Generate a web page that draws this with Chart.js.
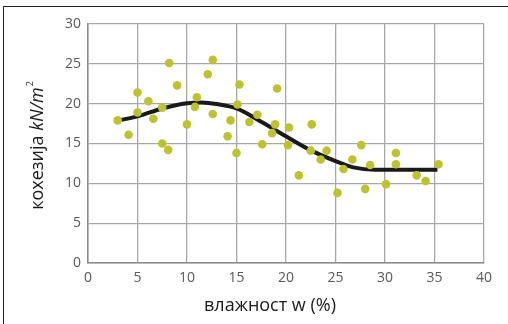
<!DOCTYPE html>
<html>
<head>
<meta charset="utf-8">
<script src="https://cdn.jsdelivr.net/npm/chart.js@4"></script>
<style>
    body { margin: 0; background: #fff; }
    #box { position: relative; width: 508px; height: 324px; }
    #okvir { position: absolute; left: 3px; top: 6px; right: 0; bottom: 0; border-top: 1px solid #222; border-left: 1px solid #222; }
</style>
</head>
<body>
<div id="box">
    <div id="okvir"></div>
    <canvas id="grafik" width="508" height="324"></canvas>
</div>
<script>
// vlaznost (%) i kohezija (kN/m2) - tacke
const vlaznost = [3.0, 4.1, 5.0, 5.0, 6.1, 6.6, 7.5, 7.5, 8.1, 8.2, 9.0, 10.0, 10.8, 11.0, 12.1, 12.6, 12.6,
    14.1, 14.4, 15.0, 15.1, 15.3, 16.3, 17.1, 17.6, 18.6, 18.9, 19.1, 20.2, 20.3, 21.3, 22.5, 22.6, 23.5, 24.1,
    25.2, 25.8, 26.7, 27.6, 28.0, 28.5, 30.1, 31.1, 31.1, 33.2, 34.1, 35.4];
const kohezija = [17.9, 16.1, 21.4, 18.9, 20.3, 18.1, 19.5, 15.0, 14.2, 25.1, 22.3, 17.4, 19.6, 20.8, 23.7, 25.5, 18.7,
    15.9, 17.9, 13.8, 19.9, 22.4, 17.7, 18.6, 14.9, 16.3, 17.4, 21.9, 14.8, 17.0, 11.0, 14.1, 17.4, 13.0, 14.1,
    8.8, 11.8, 13.0, 14.8, 9.3, 12.3, 9.9, 13.8, 12.4, 11.0, 10.3, 12.4];

// trend linija
const trendX = [3.1, 5, 7.5, 10, 11.5, 13, 15, 17.4, 20, 22.4, 25, 26.8, 29, 35.3];
const trendY = [17.9, 18.4, 19.4, 20.05, 20.15, 19.95, 19.4, 17.8, 15.9, 14.2, 12.8, 12.0, 11.7, 11.7];

const xTicks = [0, 5, 10, 15, 20, 25, 30, 35, 40];
const yTicks = [0, 5, 10, 15, 20, 25, 30];

const tacke = vlaznost.map((v, i) => ({ x: v, y: kohezija[i] }));
const trend = trendX.map((v, i) => ({ x: v, y: trendY[i] }));

// nazivi osa (y ima italik deo i eksponent)
const naziviOsa = {
    id: 'naziviOsa',
    afterDraw(chart) {
        const c = chart.ctx;
        c.save();
        c.fillStyle = '#1a1a1a';
        c.textBaseline = 'alphabetic';
        c.font = '18px "Open Sans"';
        c.textAlign = 'center';
        c.fillText('влажност w (%)', 270, 311);

        c.translate(43, 146);
        c.rotate(-Math.PI / 2);
        const d1 = 'кохезија ';
        const d2 = 'kN/m';
        c.font = '18px "Open Sans"';
        const w1 = c.measureText(d1).width;
        c.font = 'italic 18px "Open Sans"';
        const w2 = c.measureText(d2).width;
        c.font = '9px "Open Sans"';
        const w3 = c.measureText('2').width;
        let x = -(w1 + w2 + w3) / 2;
        c.textAlign = 'left';
        c.font = '18px "Open Sans"';
        c.fillText(d1, x, 0);
        x += w1;
        c.font = 'italic 18px "Open Sans"';
        c.fillText(d2, x, 0);
        x += w2;
        c.font = '9px "Open Sans"';
        c.fillText('2', x + 1, -10);
        c.restore();
    }
};

const ctx = document.getElementById('grafik').getContext('2d');
new Chart(ctx, {
    type: 'scatter',
    data: {
        datasets: [
            {
                type: 'line',
                label: 'trend',
                data: trend,
                borderColor: '#1a1a1a',
                borderWidth: 4,
                pointRadius: 0,
                fill: false,
                cubicInterpolationMode: 'monotone',
                order: 1
            },
            {
                label: 'kohezija',
                data: tacke,
                backgroundColor: '#bdc22f',
                borderColor: '#bdc22f',
                pointRadius: 4.3,
                pointBorderWidth: 0,
                order: 0
            }
        ]
    },
    options: {
        responsive: false,
        animation: false,
        layout: { padding: { top: 24, right: 24, left: 0, bottom: 0 } },
        plugins: { legend: { display: false }, tooltip: { enabled: false } },
        scales: {
            x: {
                type: 'linear',
                min: 0, max: 40,
                afterBuildTicks(s) { s.ticks = xTicks.map(v => ({ value: v })); },
                afterFit(s) { s.height = 61; },
                grid: { color: '#a8a8a8', lineWidth: 1.3, drawTicks: false },
                border: { color: '#8c8c8c', width: 1.5 },
                ticks: { color: '#595959', padding: 7, font: { family: 'Open Sans', size: 14 } }
            },
            y: {
                min: 0, max: 30,
                afterBuildTicks(s) { s.ticks = yTicks.map(v => ({ value: v })); },
                afterFit(s) { s.width = 88; },
                grid: { color: '#a8a8a8', lineWidth: 1.3, drawTicks: false },
                border: { color: '#8c8c8c', width: 1.5 },
                ticks: { color: '#595959', padding: 7, font: { family: 'Open Sans', size: 14 } }
            }
        }
    },
    plugins: [naziviOsa]
});
</script>
</body>
</html>
